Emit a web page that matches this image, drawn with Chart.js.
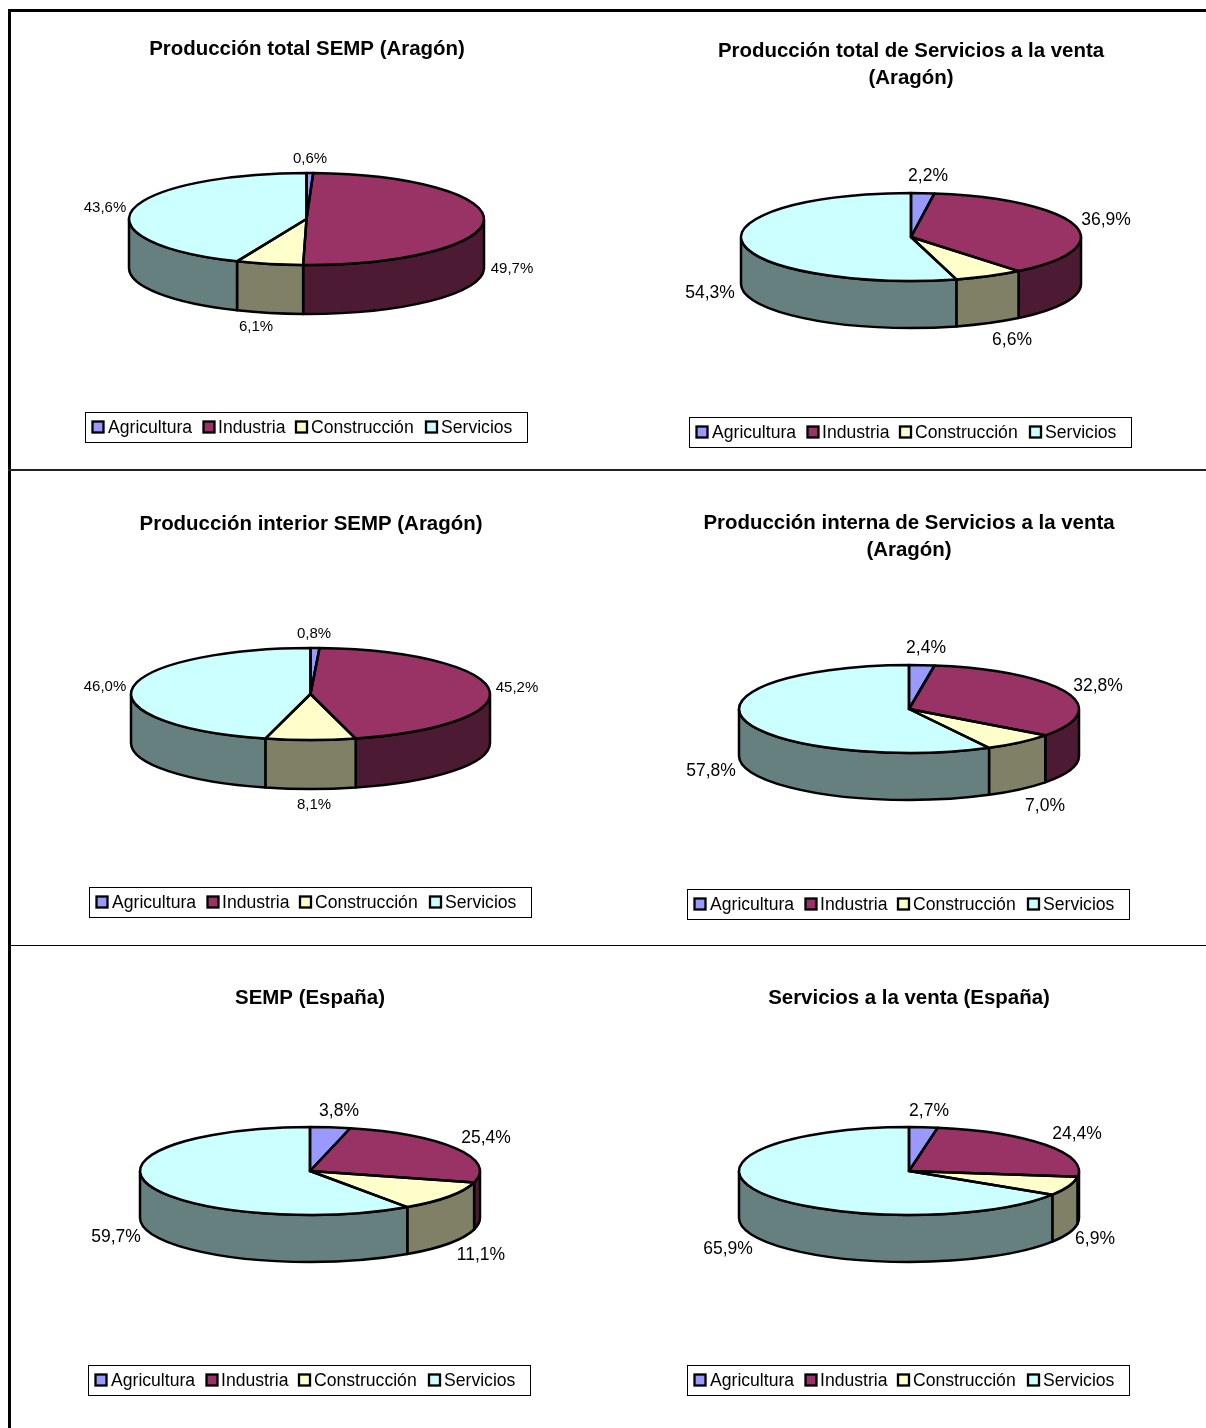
<!DOCTYPE html>
<html lang="es">
<head>
<meta charset="utf-8">
<title>Estructura de la producción SEMP y Servicios a la venta</title>
<script src="https://cdn.jsdelivr.net/npm/chart.js@4"></script>
<style>
  html, body { margin: 0; padding: 0; background: #fff; }
  body { position: relative; width: 1206px; height: 1428px; overflow: hidden; }
  canvas { position: absolute; display: block; }
  .rule { position: absolute; background: #000; }
</style>
</head>
<body>
<div class="rule" style="left:8px;top:9px;width:1198px;height:3px"></div>
<div class="rule" style="left:8px;top:9px;width:3px;height:1419px"></div>
<div class="rule" style="left:8px;top:469px;width:1198px;height:2px;background:#222"></div>
<div class="rule" style="left:8px;top:945px;width:1198px;height:1px"></div>
<script>
// Sector shares, in percent, in the order of the categories
const categories = ['Agricultura', 'Industria', 'Construcción', 'Servicios'];
const sempTotalAragon = [0.6, 49.7, 6.1, 43.6];
const serviciosTotalAragon = [2.2, 36.9, 6.6, 54.3];
const sempInteriorAragon = [0.8, 45.2, 8.1, 46.0];
const serviciosInternaAragon = [2.4, 32.8, 7.0, 57.8];
const sempEspana = [3.8, 25.4, 11.1, 59.7];
const serviciosEspana = [2.7, 24.4, 6.9, 65.9];

// Top faces and the darker side walls of each slice
const topColors = ['#9999FF', '#993366', '#FFFFCC', '#CCFFFF'];
const wallColors = ['#4D4D80', '#4D1A33', '#808066', '#668080'];

const FONT = '"Liberation Sans", Arial, sans-serif';
const OUTLINE = 2.5;

// Page layout of each pie: box of the canvas, ellipse, title, value labels and legend frame
const panels = [
  { values: sempTotalAragon, title: ['Producción total SEMP (Aragón)'], titleX: 307, titleY: [49],
    box: [11, 12, 597, 457], cx: 306.5, cy: 219, rx: 177.5, ry: 46, depth: 49, labelSize: 15,
    labelAt: [[310, 159], [512, 269], [256, 327], [105, 208]], legendAt: [85, 412] },
  { values: serviciosTotalAragon, title: ['Producción total de Servicios a la venta', '(Aragón)'], titleX: 911, titleY: [51, 78],
    box: [608, 12, 598, 457], cx: 911, cy: 237, rx: 170, ry: 44, depth: 47, labelSize: 17.5,
    labelAt: [[928, 176], [1106, 220], [1012, 340], [710, 293]], legendAt: [689, 417] },
  { values: sempInteriorAragon, title: ['Producción interior SEMP (Aragón)'], titleX: 311, titleY: [524],
    box: [11, 471, 597, 474], cx: 310.5, cy: 694, rx: 179.5, ry: 46, depth: 49, labelSize: 15,
    labelAt: [[314, 634], [517, 688], [314, 805], [105, 687]], legendAt: [89, 887] },
  { values: serviciosInternaAragon, title: ['Producción interna de Servicios a la venta', '(Aragón)'], titleX: 909, titleY: [523, 550],
    box: [608, 471, 598, 474], cx: 909, cy: 709, rx: 170, ry: 44, depth: 47, labelSize: 17.5,
    labelAt: [[926, 648], [1098, 686], [1045, 806], [711, 771]], legendAt: [687, 889] },
  { values: sempEspana, title: ['SEMP (España)'], titleX: 310, titleY: [998],
    box: [11, 946, 597, 482], cx: 310, cy: 1171, rx: 170, ry: 44, depth: 47, labelSize: 17.5,
    labelAt: [[339, 1111], [486, 1138], [481, 1255], [116, 1237]], legendAt: [88, 1365] },
  { values: serviciosEspana, title: ['Servicios a la venta (España)'], titleX: 909, titleY: [998],
    box: [608, 946, 598, 482], cx: 909, cy: 1171, rx: 170, ry: 44, depth: 47, labelSize: 17.5,
    labelAt: [[929, 1111], [1077, 1134], [1095, 1239], [728, 1249]], legendAt: [687, 1365] }
];

// Offsets of swatch and text inside a legend frame
const legendFrameSize = [442, 30];
const legendSwatchX = [7.5, 118.5, 211, 341];
const legendTextX = [23, 133, 226, 356];

const formatShare = v => v.toFixed(1).replace('.', ',') + '%';

// Flattens the library's round pie into an ellipse and gives it a rim
const tiltedPie = {
  id: 'tiltedPie',
  beforeDatasetsDraw(chart, args, opts) {
    const { ry, depth } = opts.panel;
    const ctx = chart.ctx;
    const arcs = chart.getDatasetMeta(0).data;
    ctx.save();
    ctx.lineWidth = OUTLINE;
    ctx.strokeStyle = '#000';
    ctx.lineJoin = 'round';
    arcs.forEach((arc, i) => {
      const { x, y, startAngle, endAngle, outerRadius } = arc.getProps(['x', 'y', 'startAngle', 'endAngle', 'outerRadius'], true);
      // Only the part of the slice facing the viewer shows a wall
      const a = Math.max(startAngle, 0);
      const b = Math.min(endAngle, Math.PI);
      if (a >= b) return;
      ctx.beginPath();
      ctx.ellipse(x, y, outerRadius, ry, 0, a, b);
      ctx.ellipse(x, y + depth, outerRadius, ry, 0, b, a, true);
      ctx.closePath();
      ctx.fillStyle = wallColors[i];
      ctx.fill();
      ctx.stroke();
    });
    ctx.restore();
  },
  beforeDatasetDraw(chart, args, opts) {
    const { rx, ry } = opts.panel;
    const ctx = chart.ctx;
    const arc = chart.getDatasetMeta(0).data[0];
    ctx.save();
    ctx.translate(arc.x, arc.y);
    ctx.scale(1, ry / rx);
    ctx.translate(-arc.x, -arc.y);
  },
  afterDatasetDraw(chart) {
    chart.ctx.restore();
  },
  afterDatasetsDraw(chart, args, opts) {
    const { ry } = opts.panel;
    const ctx = chart.ctx;
    ctx.save();
    ctx.lineWidth = OUTLINE;
    ctx.strokeStyle = '#000';
    ctx.lineJoin = 'round';
    chart.getDatasetMeta(0).data.forEach(arc => {
      const { x, y, startAngle, endAngle, outerRadius } = arc.getProps(['x', 'y', 'startAngle', 'endAngle', 'outerRadius'], true);
      ctx.beginPath();
      ctx.moveTo(x, y);
      ctx.ellipse(x, y, outerRadius, ry, 0, startAngle, endAngle);
      ctx.closePath();
      ctx.stroke();
    });
    ctx.restore();
  }
};

// Title, value labels and framed legend, placed in page coordinates
const annotations = {
  id: 'annotations',
  afterDraw(chart, args, opts) {
    const p = opts.panel;
    const ctx = chart.ctx;
    ctx.save();
    ctx.translate(-p.box[0], -p.box[1]);
    ctx.textBaseline = 'middle';
    ctx.fillStyle = '#000';

    ctx.textAlign = 'center';
    ctx.font = 'bold 20.45px ' + FONT;
    p.title.forEach((line, i) => ctx.fillText(line, p.titleX, p.titleY[i]));

    ctx.font = p.labelSize + 'px ' + FONT;
    chart.data.datasets[0].data.forEach((v, i) => {
      ctx.fillText(formatShare(v), p.labelAt[i][0], p.labelAt[i][1]);
    });

    const [lx, ly] = p.legendAt;
    ctx.strokeStyle = '#000';
    ctx.lineWidth = 1;
    ctx.strokeRect(lx + 0.5, ly + 0.5, legendFrameSize[0], legendFrameSize[1]);
    ctx.textAlign = 'left';
    ctx.font = '17.6px ' + FONT;
    chart.data.labels.forEach((name, i) => {
      ctx.fillStyle = topColors[i];
      ctx.fillRect(lx + legendSwatchX[i], ly + 9.5, 11, 11);
      ctx.lineWidth = 2.3;
      ctx.strokeRect(lx + legendSwatchX[i], ly + 9.5, 11, 11);
      ctx.fillStyle = '#000';
      ctx.fillText(name, lx + legendTextX[i], ly + 16);
    });
    ctx.restore();
  }
};

panels.forEach(p => {
  const [bx, by, bw, bh] = p.box;
  const canvas = document.createElement('canvas');
  canvas.width = bw;
  canvas.height = bh;
  canvas.style.left = bx + 'px';
  canvas.style.top = by + 'px';
  document.body.appendChild(canvas);

  new Chart(canvas, {
    type: 'pie',
    data: {
      labels: categories,
      datasets: [{
        data: p.values,
        backgroundColor: topColors,
        borderWidth: 0,
        hoverOffset: 0,
        clip: false
      }]
    },
    options: {
      responsive: false,
      animation: false,
      events: [],
      layout: {
        padding: {
          left: p.cx - p.rx - bx,
          right: bx + bw - p.cx - p.rx,
          top: p.cy - p.rx - by,
          bottom: by + bh - p.cy - p.rx
        }
      },
      plugins: {
        legend: { display: false },
        title: { display: false },
        tooltip: { enabled: false },
        tiltedPie: { panel: p },
        annotations: { panel: p }
      }
    },
    plugins: [tiltedPie, annotations]
  });
});
</script>
</body>
</html>
